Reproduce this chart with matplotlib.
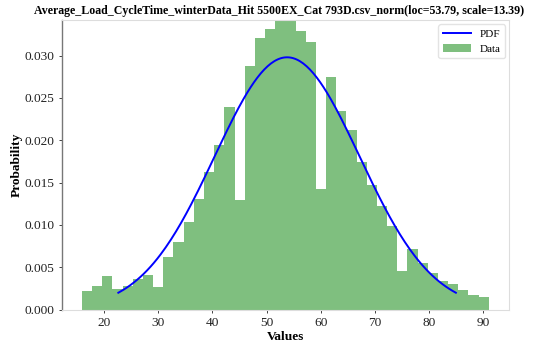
import numpy as np
import matplotlib
matplotlib.use("Agg")
import matplotlib.pyplot as plt

# histogram (density)
bin_start = 15.93
bin_width = 1.877
heights = [0.00223, 0.00279, 0.00401, 0.00240, 0.00279, 0.00358, 0.00409, 0.00267,
           0.00625, 0.00803, 0.01035, 0.01304, 0.01626, 0.01946, 0.02387, 0.01296,
           0.02871, 0.03207, 0.03313, 0.03403, 0.03403, 0.03293, 0.03160, 0.01426,
           0.02746, 0.02351, 0.02123, 0.01748, 0.01473, 0.01228, 0.00992, 0.00456,
           0.00713, 0.00547, 0.00436, 0.00338, 0.00299, 0.00232, 0.00173, 0.00152]

# fitted normal distribution (from the title)
loc = 53.79
scale = 13.39
pdf_lo, pdf_hi = 22.64, 84.94

x_ticks = [20, 30, 40, 50, 60, 70, 80, 90]
y_ticks = [0.000, 0.005, 0.010, 0.015, 0.020, 0.025, 0.030]
title = 'Average_Load_CycleTime_winterData_Hit 5500EX_Cat 793D.csv_norm(loc=53.79, scale=13.39)'

plt.rcParams['font.family'] = ['Liberation Serif', 'DejaVu Serif']

fig = plt.figure(figsize=(5.37, 3.43), dpi=100)
ax = fig.add_axes([0.115, 0.0974, 0.8334, 0.8443])

edges = bin_start + bin_width * np.arange(len(heights))
ax.bar(edges, heights, width=bin_width, align='edge', color='g', alpha=0.5,
       linewidth=0, label='Data')

xs = np.linspace(pdf_lo, pdf_hi, 200)
pdf = np.exp(-0.5 * ((xs - loc) / scale) ** 2) / (scale * np.sqrt(2 * np.pi))
ax.plot(xs, pdf, color='b', lw=1.4, label='PDF')

ax.set_xlim(12.2, 94.8)
ax.set_ylim(0, 0.0342)
ax.set_xticks(x_ticks)
ax.set_yticks(y_ticks)
ax.set_yticklabels([f"{v:.3f}" for v in y_ticks])
ax.tick_params(axis='both', labelsize=9.6, length=2.5, width=0.6, colors='#222222', pad=3)

for side in ['top', 'right', 'bottom']:
    ax.spines[side].set_color('#dddddd')
    ax.spines[side].set_linewidth(0.8)
ax.spines['left'].set_color('#777777')
ax.spines['left'].set_linewidth(1.0)

ax.set_xlabel('Values', fontsize=9.6, fontweight='bold', labelpad=1)
ax.set_ylabel('Probability', fontsize=9.6, fontweight='bold', labelpad=1)
fig.text(0.52, 0.985, title, fontsize=8.6, fontweight='bold', ha='center', va='top')

leg = ax.legend(loc='upper right', fontsize=8, frameon=True, handlelength=2.5,
                borderaxespad=0.4)
leg.get_frame().set_edgecolor('#dddddd')

fig.savefig('out.png', dpi=100)
